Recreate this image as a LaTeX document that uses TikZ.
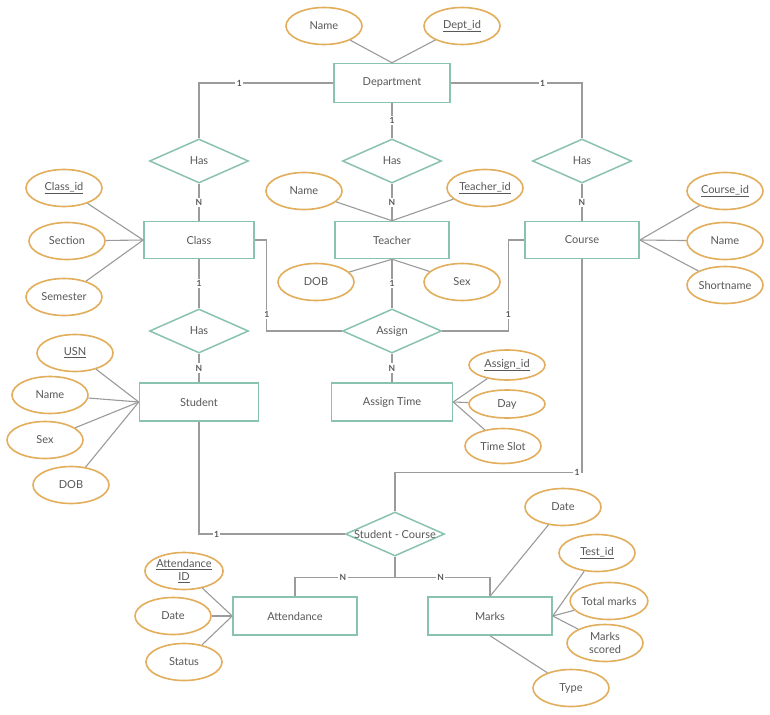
\documentclass[tikz,border=0pt]{standalone}
\usepackage{fontspec}
\setmainfont{Lato}
\usetikzlibrary{shapes.geometric}
\definecolor{verdeent}{RGB}{138,194,176}
\definecolor{laranjaatr}{RGB}{226,174,92}
\definecolor{cinzalinha}{RGB}{155,155,155}
\definecolor{cinzatexto}{RGB}{88,88,88}

\begin{document}
\begin{tikzpicture}[x=1pt, y=-1pt,
    font=\fontsize{11}{12.5}\selectfont,
    entidade/.style={draw=verdeent, line width=1.5pt, fill=white, text=cinzatexto,
      minimum width=118pt, minimum height=38pt, inner sep=0pt},
    atributo/.style={ellipse, draw=laranjaatr, line width=1.6pt, fill=white, text=cinzatexto,
      minimum width=76pt, minimum height=37pt, inner sep=0pt, align=center},
    relacao/.style={diamond, draw=verdeent, line width=1.5pt, fill=white, text=cinzatexto,
      aspect=2.2, minimum width=99pt, minimum height=44pt, inner sep=0pt},
    liga/.style={draw=cinzalinha, line width=1.1pt},
    card/.style={fill=white, text=cinzatexto, inner sep=1.5pt, font=\fontsize{8.5}{9}\selectfont\bfseries}]

    % Fundo e limites (coordenadas em pixels da figura)
    \fill[white] (0,0) rectangle (770,714);

    % Entidades
    \node[entidade, minimum width=116pt, minimum height=39pt] (dept) at (392,83) {Department};
    \node[entidade, minimum width=110pt, minimum height=37pt] (class) at (199,240) {Class};
    \node[entidade, minimum width=114pt, minimum height=37pt] (teacher) at (392,240) {Teacher};
    \node[entidade, minimum width=114pt, minimum height=37pt] (course) at (582,240) {Course};
    \node[entidade, minimum width=119pt] (student) at (199,402) {Student};
    \node[entidade, minimum width=121pt] (atime) at (392,402) {Assign Time};
    \node[entidade, minimum width=124pt] (attend) at (295,616) {Attendance};
    \node[entidade, minimum width=124pt] (marks) at (490,616) {Marks};

    % Relacionamentos
    \node[relacao] (hasclass) at (199,161) {Has};
    \node[relacao] (hasteacher) at (392,161) {Has};
    \node[relacao] (hascourse) at (582,161) {Has};
    \node[relacao] (hasstudent) at (199,331) {Has};
    \node[relacao] (assign) at (392,331) {Assign};
    \node[relacao, inner xsep=-7pt] (stcourse) at (395,534) {Student - Course};

    % Atributos
    \node[atributo] (dname) at (324,26) {Name};
    \node[atributo] (deptid) at (462,26) {\underline{Dept\_id}};
    \node[atributo] (classid) at (64,188) {\underline{Class\_id}};
    \node[atributo] (section) at (67,241) {Section};
    \node[atributo] (semester) at (64,297) {Semester};
    \node[atributo] (tname) at (304,191) {Name};
    \node[atributo] (teacherid) at (485,188) {\underline{Teacher\_id}};
    \node[atributo] (tdob) at (316,282) {DOB};
    \node[atributo] (tsex) at (462,282) {Sex};
    \node[atributo] (courseid) at (725,191) {\underline{Course\_id}};
    \node[atributo] (cname) at (725,241) {Name};
    \node[atributo] (shortname) at (725,285) {Shortname};
    \node[atributo] (usn) at (75,353) {\underline{USN}};
    \node[atributo] (sname) at (50,395) {Name};
    \node[atributo] (ssex) at (45,440) {Sex};
    \node[atributo] (sdob) at (71,485) {DOB};
    \node[atributo, minimum height=30pt] (assignid) at (507,365) {\underline{Assign\_id}};
    \node[atributo, minimum height=28pt] (day) at (507,404) {Day};
    \node[atributo, minimum height=35pt] (timeslot) at (503,446) {Time Slot};
    \node[atributo] (attid) at (184,571) {\underline{Attendance}\\\underline{ID}};
    \node[atributo] (adate) at (173,616) {Date};
    \node[atributo] (status) at (184,662) {Status};
    \node[atributo] (mdate) at (563,507) {Date};
    \node[atributo] (testid) at (597,553) {\underline{Test\_id}};
    \node[atributo] (totalmarks) at (609,601) {Total marks};
    \node[atributo] (mscored) at (605,643) {Marks\\scored};
    \node[atributo] (type) at (571,688) {Type};

    % Ligacoes com cardinalidade
    \draw[liga] (dept.west) -| node[card, pos=0.35] {1} (hasclass.north);
    \draw[liga] (dept.east) -| node[card, pos=0.35] {1} (hascourse.north);
    \draw[liga] (dept.south) -- node[card] {1} (hasteacher.north);
    \draw[liga] (hasclass.south) -- node[card] {N} (class.north);
    \draw[liga] (hasteacher.south) -- node[card] {N} (teacher.north);
    \draw[liga] (hascourse.south) -- node[card] {N} (course.north);
    \draw[liga] (class.south) -- node[card] {1} (hasstudent.north);
    \draw[liga] (hasstudent.south) -- node[card] {N} (student.north);
    \draw[liga] (teacher.south) -- node[card] {1} (assign.north);
    \draw[liga] (assign.south) -- node[card] {N} (atime.north);
    \draw[liga] (class.east) -- ++(12,0) |- node[card, pos=0.41] {1} (assign.west);
    \draw[liga] (course.west) -- ++(-16,0) |- node[card, pos=0.41] {1} (assign.east);
    \draw[liga] (student.south) |- node[card, pos=0.56] {1} (stcourse.west);
    \draw[liga] (course.south) -- ++(0,213) node[card, xshift=-5pt] {1} -| (stcourse.north);
    \draw[liga] (stcourse.south) -- ++(0,21) coordinate (divisao);
    \draw[liga] (divisao) -| node[card, pos=0.26] {N} (attend.north);
    \draw[liga] (divisao) -| node[card, pos=0.24] {N} (marks.north);

    % Ligacoes dos atributos
    \foreach \a in {dname, deptid} \draw[liga] (\a) -- (dept.north);
    \foreach \a in {classid, section, semester} \draw[liga] (\a) -- (class.west);
    \foreach \a in {tname, teacherid} \draw[liga] (\a) -- (teacher.north);
    \foreach \a in {tdob, tsex} \draw[liga] (\a) -- (teacher.south);
    \foreach \a in {courseid, cname, shortname} \draw[liga] (\a) -- (course.east);
    \foreach \a in {usn, sname, ssex, sdob} \draw[liga] (\a) -- (student.west);
    \foreach \a in {assignid, day, timeslot} \draw[liga] (\a) -- (atime.east);
    \foreach \a in {attid, adate, status} \draw[liga] (\a) -- (attend.west);
    \foreach \a in {testid, totalmarks, mscored} \draw[liga] (\a) -- (marks.east);
    \draw[liga] (mdate) -- (marks.north);
    \draw[liga] (type) -- (marks.south);
  \end{tikzpicture}
\end{document}
